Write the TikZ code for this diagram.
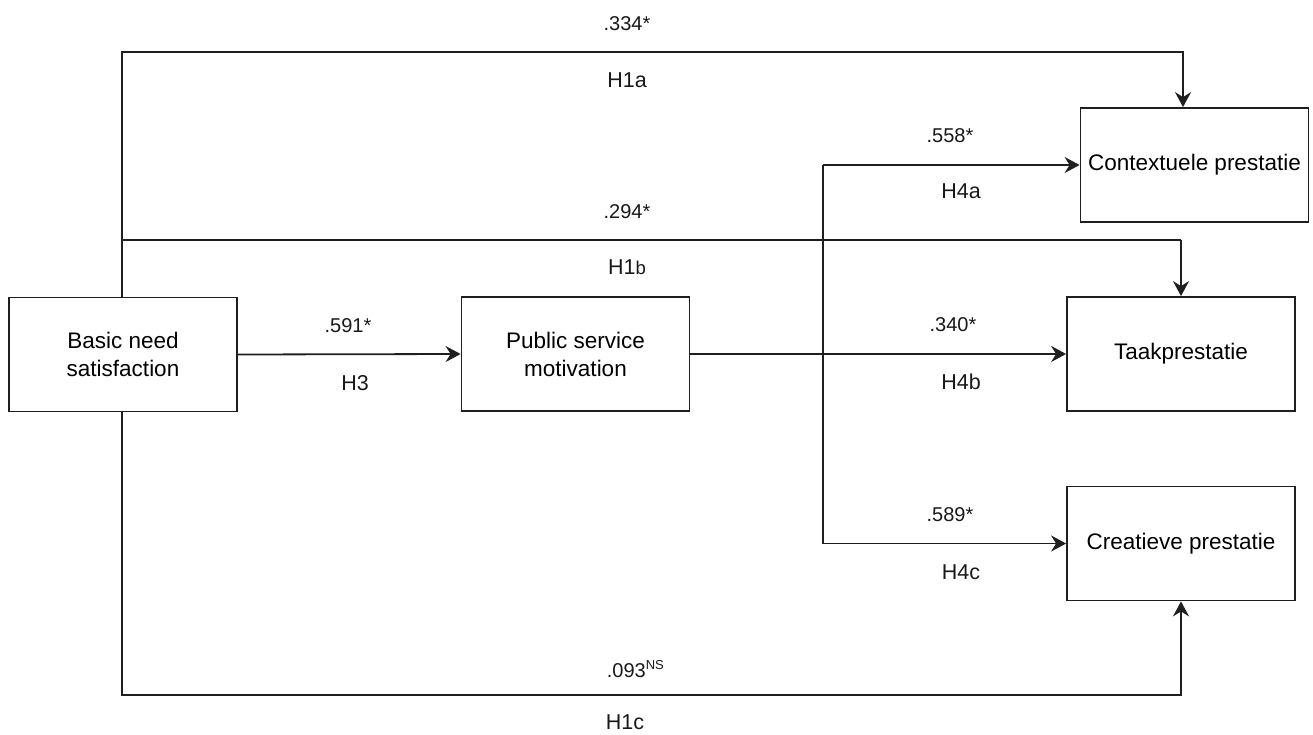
\documentclass[tikz,border=0pt]{standalone}
\usepackage{fontspec}
\setmainfont{Liberation Sans}
\usetikzlibrary{arrows.meta}
\begin{document}
\begin{tikzpicture}[x=1pt,y=-1pt,
  line width=1.8pt, line join=miter,
  construct/.style={draw=black!88, rectangle, line width=1.8pt, inner sep=0pt,
    minimum width=228pt, minimum height=114pt, align=center,
    font=\fontsize{22.5}{28}\selectfont},
  path/.style={draw=black!88, line width=1.8pt},
  arr/.style={path, -{Stealth[length=15pt,width=16pt,inset=5pt]}},
  coef/.style={inner sep=0pt, font=\fontsize{20}{24}\selectfont, text=black!90},
  hyp/.style={inner sep=0pt, font=\fontsize{21.5}{26}\selectfont, text=black!90}]
\useasboundingbox (0,0) rectangle (1313,735);
\fill[white] (0,0) rectangle (1313,735);

% constructs
\node[construct] (basic) at (123,354.5) {Basic need\\satisfaction};
\node[construct] (psm)   at (575.5,354) {Public service\\motivation};
\node[construct] (ctx)   at (1194.5,165) {Contextuele prestatie};
\node[construct] (taak)  at (1181,354) {Taakprestatie};
\node[construct] (crea)  at (1181,543.5) {Creatieve prestatie};

% bend points of the direct effects
\coordinate (atl) at (122,52);
\coordinate (atr) at (1183,52);
\coordinate (btl) at (122,240);
\coordinate (btr) at (1181,240);
\coordinate (cbl) at (122,695);
\coordinate (cbr) at (1181,695);
% branch of the mediated effects
\coordinate (mtop) at (823,165);
\coordinate (mbot) at (823,543.5);

% H1a, H1b, H1c
\draw[arr] (basic.north -| atl) -- (atl) -- (atr) -- (atr |- ctx.north);
\draw[path] (btl) -- (btr);
\draw[arr] (btr) -- (taak.north);
\draw[arr] (basic.south -| cbl) -- (cbl) -- (cbr) -- (crea.south);

% H3 and H4b
\draw[arr] (basic.east) -- (psm.west);
\draw[arr] (psm.east) -- (taak.west);

% H4a and H4c
\draw[path] (mtop) -- (mbot);
\draw[arr] (mtop) -- (ctx.west);
\draw[arr] (mbot) -- (crea.west);

% coefficients and hypotheses
\node[coef] (c1a) at (627,24) {.334*};
\node[hyp]  (h1a) at (627,80) {H1a};
\node[coef] (c1b) at (627,212) {.294*};
\node[hyp]  (h1b) at (627,267) {H1{\fontsize{18.5}{22}\selectfont b}};
\node[coef] (c3)  at (348,326) {.591*};
\node[hyp]  (h3)  at (355,383) {H3};
\node[coef] (c4a) at (950,136) {.558*};
\node[hyp]  (h4a) at (961,191) {H4a};
\node[coef] (c4b) at (953,325) {.340*};
\node[hyp]  (h4b) at (961,382) {H4b};
\node[coef] (c4c) at (950,515) {.589*};
\node[hyp]  (h4c) at (961,572) {H4c};
\node[coef,anchor=base west] (c1c) at (606,677) {.093\raisebox{8pt}{\fontsize{13}{15}\selectfont NS}};
\node[hyp]  (h1c) at (625,722) {H1c};
\end{tikzpicture}
\end{document}
